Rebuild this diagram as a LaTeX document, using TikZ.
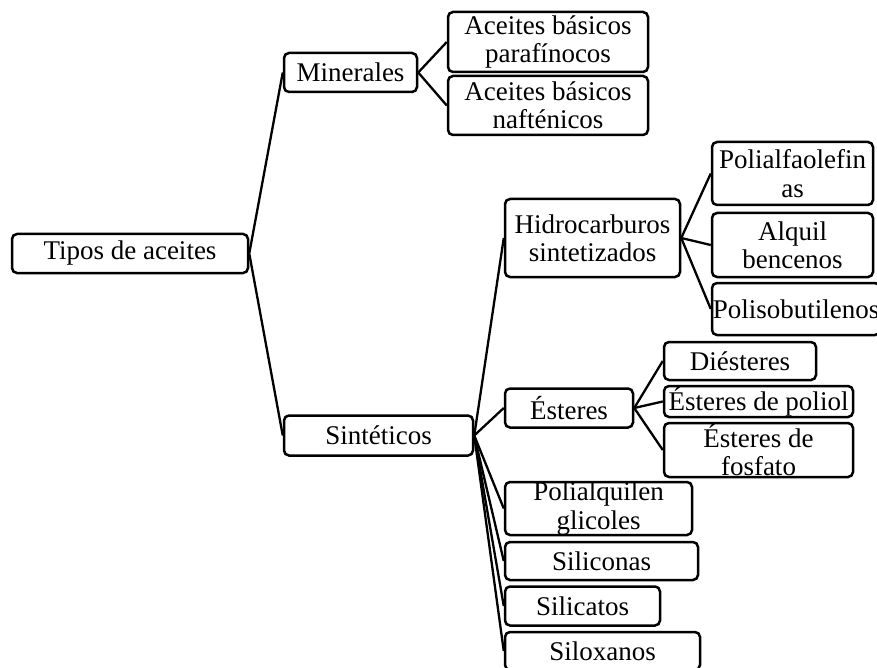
\documentclass[tikz,border=0pt]{standalone}
\usepackage{fontspec}
\setmainfont{Liberation Serif}

\begin{document}
\begin{tikzpicture}[x=0.5pt,y=-0.5pt,
  box/.style={draw,rounded corners=2.5pt,line width=1.25pt,align=center,inner sep=0pt,
    font=\fontsize{13.5}{14.2}\selectfont},
  sz/.style 2 args={minimum width=#1*0.5pt,minimum height=#2*0.5pt},
  link/.style={line width=1.15pt}]
\path[use as bounding box,clip] (0,0) rectangle (877,668);

% Root
\node[box,sz={236}{39}] (tipos) at (130,253.5) {Tipos de aceites};

% First level
\node[box,sz={133}{39}] (minerales) at (350.5,72.5) {Minerales};
\node[box,sz={189}{40}] (sinteticos) at (378.5,435.5) {Sintéticos};

% Minerales
\node[box,sz={200}{60}] (parafinicos) at (548,42) {Aceites básicos\\parafínocos};
\node[box,sz={200}{59}] (naftenicos) at (548,105.5) {Aceites básicos\\nafténicos};

% Sinteticos
\node[box,sz={175}{78}] (hidro) at (592.5,238) {Hidrocarburos\\sintetizados};
\node[box,sz={128}{39}] (esteres) at (569,408) {Ésteres};
\node[box,sz={187}{53}] (polialq) at (598.5,508.5) {Polialquilen\\glicoles};
\node[box,sz={193}{38}] (siliconas) at (601.5,561) {Siliconas};
\node[box,sz={155}{39}] (silicatos) at (582.5,606) {Silicatos};
\node[box,sz={195}{38}] (siloxanos) at (602.5,651) {Siloxanos};

% Hidrocarburos
\node[box,sz={161}{63}] (polialfa) at (792.5,173.5) {Polialfaolefin\\as};
\node[box,sz={161}{64}] (alquil) at (792.5,245) {Alquil\\bencenos};
\node[box,sz={168}{52}] (polisob) at (796,309) {Polisobutilenos};

% Esteres
\node[box,sz={152}{38}] (diesteres) at (740,361) {Diésteres};
\node[box,sz={189}{31}] (poliol) at (758.5,401.5) {Ésteres de poliol};
\node[box,sz={189}{54}] (fosfato) at (758.5,450) {Ésteres de\\fosfato};

% Connectors
\draw[link] (tipos.east) -- (minerales.west);
\draw[link] (tipos.east) -- (sinteticos.west);
\draw[link] (minerales.east) -- (parafinicos.west);
\draw[link] (minerales.east) -- (naftenicos.west);
\draw[link] (sinteticos.east) -- (hidro.west);
\draw[link] (sinteticos.east) -- (esteres.west);
\draw[link] (sinteticos.east) -- (polialq.west);
\draw[link] (sinteticos.east) -- (siliconas.west);
\draw[link] (sinteticos.east) -- (silicatos.west);
\draw[link] (sinteticos.east) -- (siloxanos.west);
\draw[link] (hidro.east) -- (polialfa.west);
\draw[link] (hidro.east) -- (alquil.west);
\draw[link] (hidro.east) -- (polisob.west);
\draw[link] (esteres.east) -- (diesteres.west);
\draw[link] (esteres.east) -- (poliol.west);
\draw[link] (esteres.east) -- (fosfato.west);
\end{tikzpicture}
\end{document}
